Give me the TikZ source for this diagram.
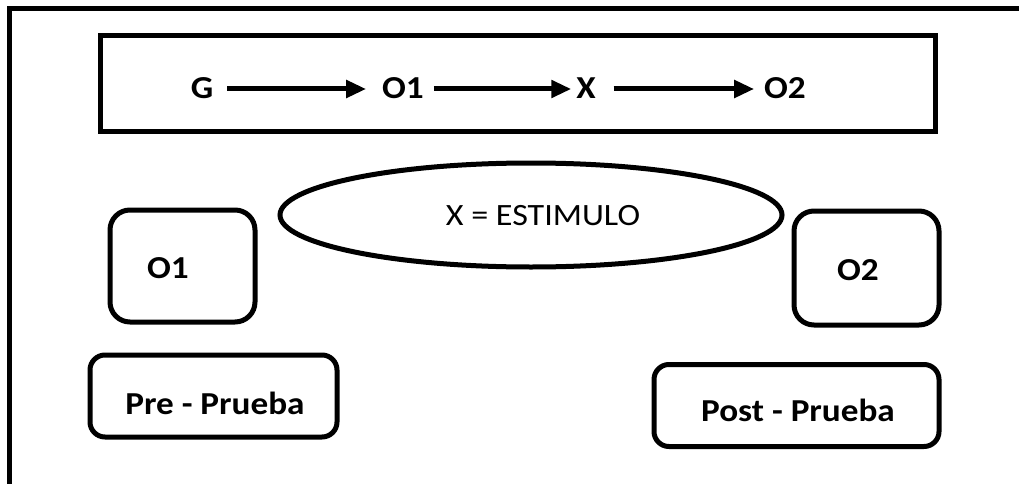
\documentclass[tikz,border=0pt]{standalone}
\usepackage{fontspec}
\setmainfont{Carlito}
\newfontfamily\wide{Carlito}[FakeStretch=1.1]
\usetikzlibrary{arrows.meta,shapes.geometric}
\begin{document}
\begin{tikzpicture}[x=1pt,y=-1pt,
  lbl/.style={font=\wide\fontsize{32}{32}\selectfont\bfseries, inner sep=0pt, outer sep=0pt},
  plain/.style={font=\wide\fontsize{31}{31}\selectfont, inner sep=0pt, outer sep=0pt},
  frame/.style={line width=5pt, line join=miter},
  sqbox/.style={draw, line width=5pt, minimum width=835pt, minimum height=95pt, inner sep=0pt},
  rbox/.style={draw, line width=5pt, rounded corners=20pt, inner sep=0pt},
  pbox/.style={draw, line width=5pt, rounded corners=15pt, inner sep=0pt},
  oval/.style={draw, ellipse, line width=5pt, inner sep=0pt},
  arr/.style={line width=5pt, -{Triangle[length=20pt,width=17pt]}}]
\useasboundingbox (0,0) rectangle (1019,484);
\coordinate (fb) at (9.5,484);
\coordinate (fc) at (9.5,8.5);
\coordinate (fr) at (1019,8.5);
\draw[frame] (fb) -- (fc) -- (fr);
% top box
\node[sqbox] (top) at (517.5,83.5) {};
\node[lbl] (G) at (202,88) {G};
\node[lbl] (O1) at (403,88) {O1};
\node[lbl] (X) at (586,88) {X};
\node[lbl] (O2) at (785,88) {O2};
\draw[arr] ([xshift=14pt,yshift=-1pt]G.east) -- ([xshift=-16pt,yshift=-1pt]O1.west);
\draw[arr] ([xshift=10pt,yshift=-1pt]O1.east) -- ([xshift=-5pt,yshift=-1pt]X.west);
\draw[arr] ([xshift=18pt,yshift=-1pt]X.east) -- ([xshift=-10pt,yshift=-1pt]O2.west);
% ellipse
\node[oval, minimum width=502pt, minimum height=104pt] (stim) at (531,215) {};
\node[plain] (stimtxt) at (543,216) {X = ESTIMULO};
% O boxes
\node[rbox, minimum width=145pt, minimum height=112pt] (bo1) at (182.5,266) {};
\node[lbl] (to1) at (168,268) {O1};
\node[rbox, minimum width=145pt, minimum height=114pt] (bo2) at (866.5,268) {};
\node[lbl] (to2) at (858,270) {O2};
% pre / post
\node[pbox, minimum width=247pt, minimum height=82pt] (pre) at (213.5,396) {};
\node[lbl] (tpre) at (215,403) {Pre - Prueba};
\node[pbox, minimum width=285pt, minimum height=82pt] (post) at (796.5,405.5) {};
\node[lbl] (tpost) at (798,410) {Post - Prueba};
\end{tikzpicture}
\end{document}
